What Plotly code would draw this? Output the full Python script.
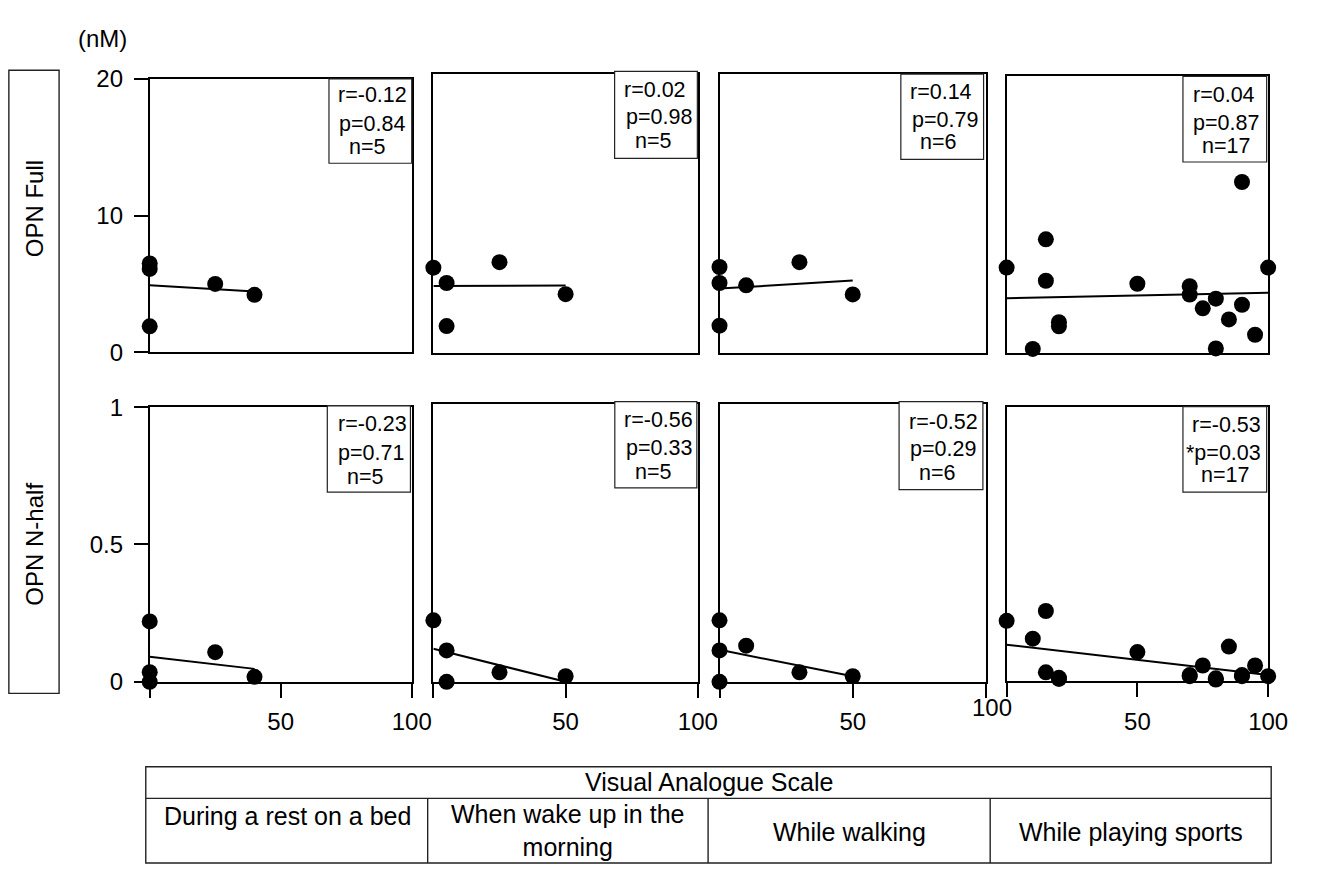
import plotly.graph_objects as go

W, H = 1330, 877
FONT = "Arial, 'Liberation Sans', sans-serif"

# ---------------- text ----------------
unit_label = "(nM)"
row_labels = ["OPN Full", "OPN N-half"]
table_header = "Visual Analogue Scale"
conditions = ["During a rest on a bed", "When wake up in the<br>morning",
              "While walking", "While playing sports"]

# ---------------- data (VAS score vs concentration) ----------------
# OPN Full (nM)
full_x_rest = [0, 0, 0, 25, 40]
full_y_rest = [6.5, 6.1, 1.9, 5.0, 4.2]
full_x_wake = [0, 5, 5, 25, 50]
full_y_wake = [6.1, 5.0, 1.9, 6.5, 4.2]
full_x_walk = [0, 0, 0, 10, 30, 50]
full_y_walk = [6.15, 5.0, 1.93, 4.83, 6.5, 4.18]
full_x_sport = [0, 10, 15, 15, 20, 20, 50, 70, 70, 75, 80, 80, 85, 90, 90, 95, 100]
full_y_sport = [6.15, 0.26, 8.2, 5.2, 2.2, 1.9, 4.98, 4.8, 4.2, 3.2, 3.9, 0.3, 2.4, 12.35, 3.46, 1.29, 6.15]

# OPN N-half (nM)
half_x_rest = [0, 0, 0, 25, 40]
half_y_rest = [0.22, 0.035, 0.0, 0.108, 0.018]
half_x_wake = [0, 5, 5, 25, 50]
half_y_wake = [0.221, 0.113, 0.0, 0.034, 0.02]
half_x_walk = [0, 0, 0, 10, 30, 50]
half_y_walk = [0.221, 0.113, 0.0, 0.13, 0.034, 0.02]
half_x_sport = [0, 10, 15, 15, 20, 20, 50, 70, 70, 75, 80, 80, 85, 90, 90, 95, 100]
half_y_sport = [0.22, 0.155, 0.256, 0.032, 0.008, 0.012, 0.106, 0.018, 0.022, 0.057, 0.006, 0.010, 0.126, 0.018, 0.022, 0.057, 0.018]

# regression line end points
full_fit_x = [[0, 40], [0, 50], [0, 50], [0, 100]]
full_fit_y = [[4.9, 4.45], [4.78, 4.82], [4.6, 5.18], [3.93, 4.33]]
half_fit_x = [[0, 40], [0, 50], [0, 50], [0, 100]]
half_fit_y = [[0.091, 0.047], [0.119, 0.0], [0.115, 0.02], [0.133, 0.022]]

# statistics
full_stats = [["r=-0.12", "p=0.84", "n=5"], ["r=0.02", "p=0.98", "n=5"],
              ["r=0.14", "p=0.79", "n=6"], ["r=0.04", "p=0.87", "n=17"]]
half_stats = [["r=-0.23", "p=0.71", "n=5"], ["r=-0.56", "p=0.33", "n=5"],
              ["r=-0.52", "p=0.29", "n=6"], ["r=-0.53", "*p=0.03", "n=17"]]

# ticks
full_tickvals = [0, 10, 20]
full_ticktext = ["0", "10", "20"]
half_tickvals = [0, 0.5, 1]
half_ticktext = ["0", "0.5", "1"]
vas_tickvals = [0, 50, 100]
vas_ticktext = ["", "50", "100"]
full_range = [0, 20]
half_range = [0, 1]
vas_range = [0, 100]

# ---------------- layout geometry (pixels) ----------------
col_x = [(152, 418), (440, 708.5), (730.5, 1001), (1022, 1287.5)]
top_y = [(67, 349), (62.3, 349.3), (62.3, 349.3), (64.3, 349.3)]
bot_y = [(405.7, 689), (402.3, 689), (402.3, 689), (405.7, 688.3)]

top_boxes = [(334, 418, 67, 154), (624, 708, 59.3, 149), (914.6, 998.6, 62, 150), (1201, 1286, 64.3, 152.7)]
top_lines = [[(378.3, 84), (377.5, 113.3), (372.8, 137.5)],
             [(665.5, 78), (668.7, 106.7), (663, 131.5)],
             [(955.7, 80), (959, 109), (952.5, 132.5)],
             [(1242.3, 83.3), (1244.5, 112.3), (1244.5, 136.5)]]
bot_boxes = [(332.3, 416.7, 404.3, 493.3), (624.2, 707.5, 400, 489), (912.8, 997.9, 400, 490.7), (1201, 1286, 405, 493.3)]
bot_lines = [[(377.7, 423.3), (376.3, 453.3), (371.3, 477.5)],
             [(669, 419.3), (669, 448.3), (663, 472.5)],
             [(958.3, 420.7), (957.8, 449.3), (952, 474)],
             [(1245.7, 424), (1242.3, 452.7), (1244, 476)]]


def px(x):
    return x / W


def py(y):
    return 1 - y / H


fig = go.Figure()

full_x = [full_x_rest, full_x_wake, full_x_walk, full_x_sport]
full_y = [full_y_rest, full_y_wake, full_y_walk, full_y_sport]
half_x = [half_x_rest, half_x_wake, half_x_walk, half_x_sport]
half_y = [half_y_rest, half_y_wake, half_y_walk, half_y_sport]

LW = 1.8
axis_common = dict(showline=True, linecolor="black", linewidth=LW, mirror=True,
                   showgrid=False, zeroline=False, fixedrange=True,
                   tickfont=dict(family=FONT, size=24, color="black"))

shapes = []
annotations = []

for row in range(2):
    for c in range(4):
        idx = row * 4 + c + 1
        xa = "x" if idx == 1 else f"x{idx}"
        ya = "y" if idx == 1 else f"y{idx}"
        xs = full_x[c] if row == 0 else half_x[c]
        ys = full_y[c] if row == 0 else half_y[c]
        fx = full_fit_x[c] if row == 0 else half_fit_x[c]
        fy = full_fit_y[c] if row == 0 else half_fit_y[c]
        fig.add_trace(go.Scatter(x=fx, y=fy, mode="lines", xaxis=xa, yaxis=ya,
                                 line=dict(color="black", width=2), cliponaxis=False,
                                 showlegend=False, hoverinfo="skip"))
        fig.add_trace(go.Scatter(x=xs, y=ys, mode="markers", xaxis=xa, yaxis=ya,
                                 marker=dict(color="black", size=16), cliponaxis=False,
                                 showlegend=False))

        x0, x1 = col_x[c]
        y0, y1 = (top_y if row == 0 else bot_y)[c]
        xkey = "xaxis" if idx == 1 else f"xaxis{idx}"
        ykey = "yaxis" if idx == 1 else f"yaxis{idx}"
        xax = dict(axis_common, domain=[px(x0), px(x1)], range=vas_range, anchor=ya)
        yax = dict(axis_common, domain=[py(y1), py(y0)],
                   range=full_range if row == 0 else half_range, anchor=xa)
        if row == 0:
            xax.update(ticks="", showticklabels=False)
        else:
            tt = list(vas_ticktext)
            if c == 2:
                tt[2] = ""
            xax.update(ticks="outside", ticklen=14, tickwidth=LW, tickcolor="black",
                       tickvals=vas_tickvals, ticktext=tt, ticklabelstandoff=4)
        if c == 0:
            yax.update(ticks="outside", ticklen=14, tickwidth=LW, tickcolor="black",
                       tickvals=full_tickvals if row == 0 else half_tickvals,
                       ticktext=full_ticktext if row == 0 else half_ticktext,
                       ticklabelstandoff=6)
        else:
            yax.update(ticks="", showticklabels=False)
        fig.layout[xkey] = xax
        fig.layout[ykey] = yax

        # stats box
        bx0, bx1, by0, by1 = (top_boxes if row == 0 else bot_boxes)[c]
        shapes.append(dict(type="rect", xref="paper", yref="paper",
                           x0=px(bx0), x1=px(bx1), y0=py(by1), y1=py(by0),
                           line=dict(color="#222", width=1.2), fillcolor="white", layer="above"))
        stats = (full_stats if row == 0 else half_stats)[c]
        lines = (top_lines if row == 0 else bot_lines)[c]
        for txt, (tx, ty) in zip(stats, lines):
            annotations.append(dict(text=txt, x=px(tx), y=py(ty), xref="paper", yref="paper",
                                    xanchor="center", yanchor="middle", showarrow=False,
                                    font=dict(family=FONT, size=21.5, color="black")))

# special raised "100" label of the third bottom panel
annotations.append(dict(text=vas_ticktext[2], x=100, y=0, xref="x7", yref="y7",
                        xshift=6, yshift=-26, xanchor="center", yanchor="middle",
                        showarrow=False, font=dict(family=FONT, size=24, color="black")))

# unit label
annotations.append(dict(text=unit_label, x=px(104.5), y=py(25), xref="paper", yref="paper",
                        xanchor="center", yanchor="middle", showarrow=False,
                        font=dict(family=FONT, size=24, color="black")))

# row label box
shapes.append(dict(type="rect", xref="paper", yref="paper", x0=px(9), x1=px(60),
                   y0=py(701), y1=py(58), line=dict(color="#222", width=1.4)))
for lab, cy in zip(row_labels, [201, 547]):
    annotations.append(dict(text=lab, x=px(35), y=py(cy), xref="paper", yref="paper",
                            textangle=-90, xanchor="center", yanchor="middle", showarrow=False,
                            font=dict(family=FONT, size=24, color="black")))

# bottom table
tl, tr, ttop, tmid, tbot = 148, 1290.6, 776.7, 809.3, 876
tcols = [434.2, 718.9, 1005.3]
tline = dict(color="#222", width=1.4)
shapes.append(dict(type="rect", xref="paper", yref="paper", x0=px(tl), x1=px(tr),
                   y0=py(tbot), y1=py(ttop), line=tline))
shapes.append(dict(type="line", xref="paper", yref="paper", x0=px(tl), x1=px(tr),
                   y0=py(tmid), y1=py(tmid), line=tline))
for cx in tcols:
    shapes.append(dict(type="line", xref="paper", yref="paper", x0=px(cx), x1=px(cx),
                       y0=py(tbot), y1=py(tmid), line=tline))
annotations.append(dict(text=table_header, x=px(720), y=py(792), xref="paper", yref="paper",
                        xanchor="center", yanchor="middle", showarrow=False,
                        font=dict(family=FONT, size=25, color="black")))
cond_pos = [(291.7, 827), (576, 842.5), (862, 844), (1148, 844)]
for txt, (cx, cy) in zip(conditions, cond_pos):
    annotations.append(dict(text=txt, x=px(cx), y=py(cy), xref="paper", yref="paper",
                            xanchor="center", yanchor="middle", showarrow=False,
                            font=dict(family=FONT, size=25, color="black")))

fig.update_layout(width=W, height=H, margin=dict(l=0, r=0, t=0, b=0),
                  paper_bgcolor="white", plot_bgcolor="white",
                  shapes=shapes, annotations=annotations, showlegend=False)

fig.write_html(
    "out.html",
    config={"displayModeBar": False},
    post_script="document.documentElement.style.margin='0';document.body.style.margin='0';"
                "document.body.style.padding='0';document.documentElement.style.overflow='hidden';"
                "document.body.style.overflow='hidden';",
)
